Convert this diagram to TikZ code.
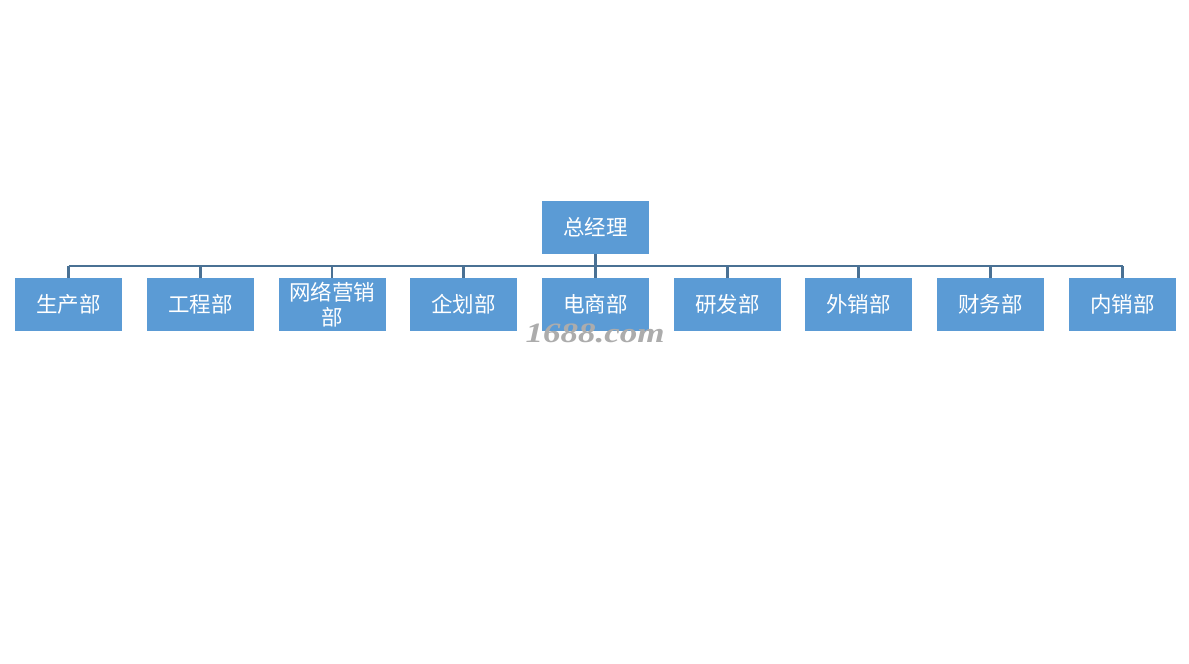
\documentclass[tikz,border=0pt]{standalone}
\usepackage{fontspec}
\newfontfamily\cjk{Noto Sans CJK SC}
\setmainfont{Liberation Serif}
\begin{document}
\begin{tikzpicture}[x=1pt,y=-1pt,
  box/.style={fill=boxblue,draw=none,minimum width=107pt,minimum height=53pt,inner sep=1pt,
     text=white,font=\cjk\fontsize{21.5}{25}\selectfont,align=center,text width=105pt},
  conn/.style={draw=linecol,line width=2.2pt}]
\definecolor{boxblue}{HTML}{5B9BD5}
\definecolor{linecol}{HTML}{4A7194}
\useasboundingbox[fill=white] (0,0) rectangle (1189,664);
\node[box] (top) at (595.5,227.5) {总经理};
\node[box] (c1) at (68.5,304.5) {生产部};
\node[box] (c2) at (200.5,304.5) {工程部};
\node[box] (c3) at (332,304.5) {网络营销\\部};
\node[box] (c4) at (463.5,304.5) {企划部};
\node[box] (c5) at (595.5,304.5) {电商部};
\node[box] (c6) at (727.5,304.5) {研发部};
\node[box] (c7) at (858.5,304.5) {外销部};
\node[box] (c8) at (990.5,304.5) {财务部};
\node[box] (c9) at (1122.5,304.5) {内销部};
\coordinate (busL) at (68.5,266);
\coordinate (busR) at (1122.5,266);
\draw[conn] (busL) -- (busR);
\draw[conn] (top.south) -- (top.south |- busR);
\foreach \i in {1,...,9} {
  \draw[conn] (c\i.north |- busL) -- (c\i.north);
}
\node[text=gray!65,font=\bfseries\itshape\fontsize{28}{28}\selectfont,xscale=1.25] (wm) at (595,333) {1688.com};
\end{tikzpicture}
\end{document}
